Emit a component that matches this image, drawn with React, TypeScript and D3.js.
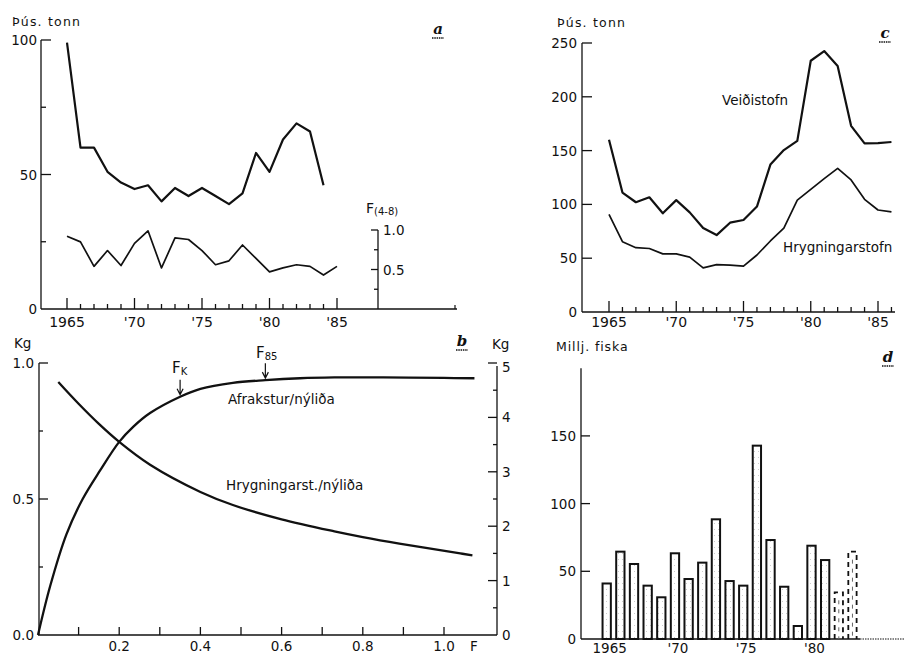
import React from "react";
import * as d3 from "d3";

const FONT = "'DejaVu Sans', 'Liberation Sans', sans-serif";
const INK = "#111";

// ---- a: catch (thousand tonnes) and fishing mortality F(4-8) ----
const catchYears = [1965, 1966, 1967, 1968, 1969, 1970, 1971, 1972, 1973, 1974, 1975, 1976, 1977, 1978, 1979, 1980, 1981, 1982, 1983, 1984];
const catchValues = [99, 60, 60, 51, 47, 44.6, 46, 40, 45, 42, 45, 42, 39, 43, 58, 51, 63, 69, 66, 46];
const fYears = [1965, 1966, 1967, 1968, 1969, 1970, 1971, 1972, 1973, 1974, 1975, 1976, 1977, 1978, 1979, 1980, 1981, 1982, 1983, 1984, 1985];
const fValues = [0.92, 0.85, 0.54, 0.74, 0.55, 0.83, 0.99, 0.52, 0.9, 0.88, 0.74, 0.56, 0.61, 0.81, 0.64, 0.47, 0.52, 0.56, 0.54, 0.43, 0.54];
const catchTicks = [0, 25, 50, 75, 100];
const catchTickLabels = ["0", "", "50", "", "100"];
const fTicks = [0.25, 0.5, 0.75, 1.0];
const fTickLabels = ["", "0.5", "", "1.0"];

// ---- c: fishable stock and spawning stock (thousand tonnes) ----
const stockYears = [1965, 1966, 1967, 1968, 1969, 1970, 1971, 1972, 1973, 1974, 1975, 1976, 1977, 1978, 1979, 1980, 1981, 1982, 1983, 1984, 1985, 1986];
const fishableStock = [160, 111, 102, 106.6, 91.7, 104, 92.6, 78, 71.5, 83, 85.5, 98, 137, 150.5, 159, 233.5, 242.5, 228.6, 173, 156.7, 157, 158];
const spawningStock = [90.8, 65.3, 59.8, 59, 54, 54, 51, 41, 44, 43.6, 42.7, 53, 66, 78, 104, 114, 124, 133.5, 122.7, 104.7, 94.8, 93];
const stockTicks = [0, 50, 100, 150, 200, 250];

// ---- b: yield per recruit and spawning stock per recruit vs F ----
const yprF = [0, 0.03, 0.07, 0.11, 0.153, 0.2, 0.235, 0.276, 0.35, 0.4, 0.48, 0.56, 0.645, 0.73, 0.85, 1.0, 1.075];
const yieldPerRecruit = [0, 0.18, 0.37, 0.5, 0.605, 0.71, 0.766, 0.816, 0.876, 0.905, 0.927, 0.937, 0.944, 0.947, 0.947, 0.945, 0.944];
const sprF = [0.05, 0.1, 0.15, 0.2, 0.276, 0.4, 0.48, 0.6, 0.73, 0.8, 0.89, 1.04, 1.07];
const ssbPerRecruit = [4.65, 4.25, 3.88, 3.55, 3.13, 2.63, 2.39, 2.126, 1.905, 1.8, 1.68, 1.5, 1.465];
const fRefK = 0.35;
const fRef85 = 0.56;
const bLeftTicks = [0, 0.25, 0.5, 0.75, 1.0];
const bLeftLabels = ["0.0", "", "0.5", "", "1.0"];
const bRightTicks = [0, 0.5, 1, 1.5, 2, 2.5, 3, 3.5, 4, 4.5, 5];
const bRightLabels = ["0", "", "1", "", "2", "", "3", "", "4", "", "5"];
const bXTicks = [0.1, 0.2, 0.3, 0.4, 0.5, 0.6, 0.7, 0.8, 0.9, 1.0];
const bXLabels = ["", "0.2", "", "0.4", "", "0.6", "", "0.8", "", "1.0"];

// ---- d: recruits (millions of fish) by year class ----
const recruitYears = [1965, 1966, 1967, 1968, 1969, 1970, 1971, 1972, 1973, 1974, 1975, 1976, 1977, 1978, 1979, 1980, 1981, 1982, 1983];
const recruits = [41, 64.5, 55.4, 39.4, 30.8, 63.3, 44.3, 56.4, 88.4, 42.8, 39.4, 142.8, 73.1, 38.6, 9.6, 68.9, 58.3, 34.5, 64.5];
const estimatedYears = [1982, 1983];
const recruitTicks = [0, 50, 100, 150];

const yearLabel = (y: number) => (y === 1965 ? "1965" : "'" + String(y).slice(2));
const yearLabelYears = [1965, 1970, 1975, 1980, 1985];

function PanelLabel({ x, y, t }: { x: number; y: number; t: string }) {
  return (
    <g>
      <text x={x} y={y} fontFamily="'DejaVu Serif', serif" fontStyle="italic" fontWeight="bold" fontSize={15} fill={INK} textAnchor="middle">{t}</text>
      <line x1={x - 6} x2={x + 6} y1={y + 4} y2={y + 4} stroke={INK} strokeWidth={1.6} strokeDasharray="1.5,0.8" />
    </g>
  );
}

function YearAxis({ x, y, years, x0, x1, labelY }: { x: d3.ScaleLinear<number, number>; y: number; years: number[]; x0: number; x1: number; labelY: number }) {
  return (
    <g>
      <line x1={x0} x2={x1} y1={y} y2={y} stroke={INK} strokeWidth={1.3} />
      {years.map((yr) => (
        <line key={yr} x1={x(yr)} x2={x(yr)} y1={y} y2={y - (yr % 5 === 0 ? 11 : 5)} stroke={INK} strokeWidth={1.3} />
      ))}
      {yearLabelYears.filter((yr) => years.includes(yr)).map((yr) => (
        <text key={"l" + yr} x={x(yr)} y={labelY} fontFamily={FONT} fontSize={14} fill={INK} textAnchor="middle">{yearLabel(yr)}</text>
      ))}
    </g>
  );
}

export default function App() {
  // scales for panel a
  const xA = d3.scaleLinear().domain([1965, 1985]).range([67, 337]);
  const yA = d3.scaleLinear().domain([0, 100]).range([309, 40]);
  const fA = d3.scaleLinear().domain([0, 1]).range([309, 230]);
  const catchLine = d3.line<number>().x((_, i) => xA(catchYears[i])).y((d) => yA(d));
  const fLine = d3.line<number>().x((_, i) => xA(fYears[i])).y((d) => fA(d));
  const axisYearsA = d3.range(1965, 1986);

  // scales for panel c
  const xC = d3.scaleLinear().domain([1965, 1985]).range([609, 878]);
  const yC = d3.scaleLinear().domain([0, 250]).range([312, 43]);
  const stockLine = (vals: number[]) => d3.line<number>().x((_, i) => xC(stockYears[i])).y((d) => yC(d))(vals) || "";
  const axisYearsC = d3.range(1965, 1987);

  // scales for panel b
  const xB = d3.scaleLinear().domain([0, 1]).range([38, 444]);
  const yB = d3.scaleLinear().domain([0, 1]).range([635, 363]);
  const yB2 = d3.scaleLinear().domain([0, 5]).range([635, 363]);
  const smooth = d3.curveCatmullRom.alpha(0.5);
  const yprLine = d3.line<number>().x((_, i) => xB(yprF[i])).y((d) => yB(d)).curve(smooth);
  const sprLine = d3.line<number>().x((_, i) => xB(sprF[i])).y((d) => yB2(d)).curve(smooth);
  const yprAt = (f: number) => yB(d3.scaleLinear().domain(yprF).range(yieldPerRecruit)(f));

  // scales for panel d
  const xD = d3.scaleLinear().domain([1965, 1980]).range([606.7, 811.5]);
  const yD = d3.scaleLinear().domain([0, 50]).range([639, 571.3]);
  const barW = 8.3;

  const arrow = (x: number, yTop: number, yTip: number) =>
    `M${x},${yTop}L${x},${yTip}M${x - 3},${yTip - 6}L${x},${yTip}L${x + 3},${yTip - 6}`;

  return (
    <svg width={906} height={655} viewBox="0 0 906 655" style={{ position: "absolute", left: 0, top: 0, background: "#fff" }}>
      <defs>
        <pattern id="stipple" width="4" height="6" patternUnits="userSpaceOnUse">
          <rect width="4" height="6" fill="#fff" />
          <rect x="2" y="1" width="0.8" height="0.8" fill="#b0b0b0" />
        </pattern>
      </defs>

      {/* ===== a ===== */}
      <text x={12} y={26} fontFamily={FONT} fontSize={12.5} letterSpacing={1.2} fill={INK}>Þús. tonn</text>
      <PanelLabel x={438} y={34} t="a" />
      <line x1={41} x2={41} y1={309} y2={40} stroke={INK} strokeWidth={1.3} />
      {catchTicks.map((t, i) => (
        <g key={t}>
          <line x1={41} x2={41 + (t % 50 === 0 ? (t === 0 ? 0 : 10) : 5)} y1={yA(t)} y2={yA(t)} stroke={INK} strokeWidth={1.3} />
          {catchTickLabels[i] && (
            <text x={37} y={yA(t) + 5} fontFamily={FONT} fontSize={13.5} fill={INK} textAnchor="end">{catchTickLabels[i]}</text>
          )}
        </g>
      ))}
      <YearAxis x={xA} y={309} years={axisYearsA} x0={41} x1={457} labelY={327} />
      <line x1={455} x2={455} y1={309} y2={305} stroke={INK} strokeWidth={1.2} />
      <line x1={378} x2={378} y1={309} y2={230} stroke={INK} strokeWidth={1.3} />
      {fTicks.map((t, i) => (
        <g key={t}>
          <line x1={378} x2={378 - (i % 2 === 1 ? 7 : 4)} y1={fA(t)} y2={fA(t)} stroke={INK} strokeWidth={1.3} />
          {fTickLabels[i] && (
            <text x={383} y={fA(t) + 5} fontFamily={FONT} fontSize={13.5} fill={INK}>{fTickLabels[i]}</text>
          )}
        </g>
      ))}
      <text x={366} y={213} fontFamily={FONT} fontSize={14} fill={INK}>
        F<tspan fontSize={10} dy={2}>(4-8)</tspan>
      </text>
      <path d={catchLine(catchValues) || ""} fill="none" stroke={INK} strokeWidth={2.2} strokeLinejoin="round" />
      <path d={fLine(fValues) || ""} fill="none" stroke={INK} strokeWidth={1.7} strokeLinejoin="round" />

      {/* ===== c ===== */}
      <text x={557} y={27} fontFamily={FONT} fontSize={12.5} letterSpacing={1.2} fill={INK}>Þús. tonn</text>
      <PanelLabel x={885} y={38} t="c" />
      <line x1={582} x2={582} y1={312} y2={43} stroke={INK} strokeWidth={1.3} />
      {stockTicks.map((t) => (
        <g key={t}>
          {t > 0 && <line x1={582} x2={592} y1={yC(t)} y2={yC(t)} stroke={INK} strokeWidth={1.3} />}
          <text x={577} y={yC(t) + 5} fontFamily={FONT} fontSize={13.5} fill={INK} textAnchor="end">{t}</text>
        </g>
      ))}
      <YearAxis x={xC} y={312} years={axisYearsC} x0={582} x1={895} labelY={327} />
      <path d={stockLine(fishableStock)} fill="none" stroke={INK} strokeWidth={2.2} strokeLinejoin="round" />
      <path d={stockLine(spawningStock)} fill="none" stroke={INK} strokeWidth={1.7} strokeLinejoin="round" />
      <text x={722} y={105} fontFamily={FONT} fontSize={13.5} fill={INK}>Veiðistofn</text>
      <text x={783} y={252} fontFamily={FONT} fontSize={13.5} fill={INK}>Hrygningarstofn</text>

      {/* ===== b ===== */}
      <text x={14} y={348} fontFamily={FONT} fontSize={13.5} fill={INK}>Kg</text>
      <text x={492} y={349} fontFamily={FONT} fontSize={13.5} fill={INK}>Kg</text>
      <PanelLabel x={462} y={346} t="b" />
      <line x1={39} x2={39} y1={635} y2={363} stroke={INK} strokeWidth={1.3} />
      {bLeftTicks.map((t, i) => (
        <g key={t}>
          {t > 0 && <line x1={39} x2={39 + (i % 2 === 0 ? 9 : 4)} y1={yB(t)} y2={yB(t)} stroke={INK} strokeWidth={1.3} />}
          {bLeftLabels[i] && (
            <text x={34} y={yB(t) + 5} fontFamily={FONT} fontSize={13.5} fill={INK} textAnchor="end">{bLeftLabels[i]}</text>
          )}
        </g>
      ))}
      <line x1={497} x2={497} y1={635} y2={366} stroke={INK} strokeWidth={1.3} />
      {bRightTicks.map((t, i) => (
        <g key={t}>
          {t > 0 && <line x1={497} x2={497 - (i % 2 === 0 ? 9 : 4)} y1={yB2(t)} y2={yB2(t)} stroke={INK} strokeWidth={1.3} />}
          {bRightLabels[i] && (
            <text x={502} y={yB2(t) + (t === 5 ? 9 : 5)} fontFamily={FONT} fontSize={13.5} fill={INK}>{bRightLabels[i]}</text>
          )}
        </g>
      ))}
      <line x1={38} x2={497} y1={635} y2={635} stroke={INK} strokeWidth={1.3} />
      {bXTicks.map((t, i) => (
        <g key={t}>
          <line x1={xB(t)} x2={xB(t)} y1={635} y2={627} stroke={INK} strokeWidth={1.3} />
          {bXLabels[i] && (
            <text x={xB(t)} y={651} fontFamily={FONT} fontSize={13.5} fill={INK} textAnchor="middle">{bXLabels[i]}</text>
          )}
        </g>
      ))}
      <text x={474} y={651} fontFamily={FONT} fontSize={13.5} fill={INK} textAnchor="middle">F</text>
      <path d={yprLine(yieldPerRecruit) || ""} fill="none" stroke={INK} strokeWidth={2.3} />
      <path d={sprLine(ssbPerRecruit) || ""} fill="none" stroke={INK} strokeWidth={2.3} />
      <path d={arrow(xB(fRefK), yprAt(fRefK) - 17, yprAt(fRefK) - 2)} fill="none" stroke={INK} strokeWidth={1.2} />
      <path d={arrow(xB(fRef85), yprAt(fRef85) - 17, yprAt(fRef85) - 2)} fill="none" stroke={INK} strokeWidth={1.2} />
      <text x={172} y={373} fontFamily={FONT} fontSize={15} fill={INK}>
        F<tspan fontSize={10} dy={2}>K</tspan>
      </text>
      <text x={256} y={358} fontFamily={FONT} fontSize={15} fill={INK}>
        F<tspan fontSize={10} dy={2}>85</tspan>
      </text>
      <text x={228} y={404} fontFamily={FONT} fontSize={13.5} fill={INK}>Afrakstur/nýliða</text>
      <text x={226} y={490} fontFamily={FONT} fontSize={13.5} fill={INK}>Hrygningarst./nýliða</text>

      {/* ===== d ===== */}
      <text x={556} y={351} fontFamily={FONT} fontSize={12.5} letterSpacing={0.9} fill={INK}>Millj. fiska</text>
      <PanelLabel x={888} y={362} t="d" />
      <line x1={581} x2={581} y1={639} y2={yD(200)} stroke={INK} strokeWidth={1.3} />
      {recruitTicks.map((t) => (
        <g key={t}>
          {t > 0 && <line x1={581} x2={590} y1={yD(t)} y2={yD(t)} stroke={INK} strokeWidth={1.3} />}
          <text x={576} y={yD(t) + 5} fontFamily={FONT} fontSize={13.5} fill={INK} textAnchor="end">{t}</text>
        </g>
      ))}
      <line x1={581} x2={860} y1={639} y2={639} stroke={INK} strokeWidth={1.3} />
      <line x1={860} x2={905} y1={639} y2={639} stroke={INK} strokeWidth={1} strokeDasharray="1.5,1" />
      {recruits.map((v, i) => {
        const yr = recruitYears[i];
        const est = estimatedYears.includes(yr);
        const x0 = xD(yr) - barW / 2;
        const top = yD(v);
        if (est) {
          return (
            <g key={yr}>
              <path d={`M${x0},639L${x0},${top}L${x0 + barW},${top}L${x0 + barW},639`} fill="none" stroke={INK} strokeWidth={1.8} strokeDasharray="5,4" />
              <line x1={x0 + barW / 2} x2={x0 + barW / 2} y1={top + 8} y2={639} stroke="#666" strokeWidth={1} strokeDasharray="4,5" />
            </g>
          );
        }
        return (
          <rect key={yr} x={x0} y={top} width={barW} height={639 - top} fill="url(#stipple)" stroke={INK} strokeWidth={2} />
        );
      })}
      {[1965, 1970, 1975, 1980].map((yr) => (
        <text key={yr} x={xD(yr) + 3} y={653} fontFamily={FONT} fontSize={13.5} fill={INK} textAnchor="middle">{yearLabel(yr)}</text>
      ))}
    </svg>
  );
}
